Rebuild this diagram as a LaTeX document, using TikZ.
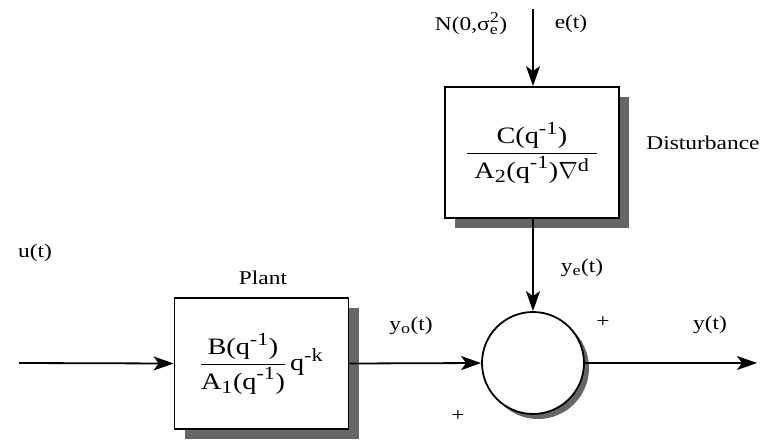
\documentclass[tikz,border=0pt]{standalone}
\usepackage{fix-cm}
\usepackage{amsmath}
\usepackage{fontspec}
\setmainfont[FakeStretch=1.2]{Liberation Serif}
\usetikzlibrary{arrows.meta,shadows}
\DeclareMathSizes{23.5}{23.5}{18.5}{14}
\DeclareMathSizes{19.5}{19.5}{15}{12}
\newcommand\tx[1]{\text{#1}}
\begin{document}
\begin{tikzpicture}[x=1pt,y=-1pt,
  every node/.style={font=\fontsize{19.5}{23}\selectfont},
  blk/.style={draw, line width=1.8pt, fill=white, inner sep=0pt,
    minimum width=174pt, minimum height=131pt,
    font=\fontsize{23.5}{28}\selectfont,
    drop shadow={shadow xshift=10pt, shadow yshift=-10pt, fill=black!60, opacity=1}},
  sumnode/.style={draw, circle, line width=1.8pt, fill=white, minimum size=102pt, inner sep=0pt,
    drop shadow={shadow xshift=5pt, shadow yshift=-5pt, fill=black!60, opacity=1}},
  conn/.style={line width=1.8pt, -{Stealth[length=20pt, width=14pt, inset=5pt]}},
  lbl/.style={inner sep=0pt}
]
\useasboundingbox (0,0) rectangle (764,440);

\node[blk] (dist) at (532,152.5)
  {$\dfrac{\tx{C(q}^{\tx{-1}}\tx{)}}{\mkern6mu\tx{A}_{\tx{2}}\tx{(q}^{\tx{-1}}\tx{)}\nabla^{\tx{d}}\mkern6mu}$};
\node[blk] (plant) at (261.5,363.5)
  {$\dfrac{\tx{B(q}^{\tx{-1}}\tx{)}}{\tx{A}_{\tx{1}}\tx{(q}^{\tx{-1}}\tx{)}}\,\tx{q}^{\tx{-k}}$};
\node[sumnode] (sum) at (533,363) {};

\coordinate (noise) at (533,9);
\coordinate (uin) at (19,363);
\coordinate (yout) at (757,363);

\draw[conn] (noise) -- (sum.north |- dist.north);
\draw[conn] (sum.north |- dist.south) -- (sum.north);
\draw[conn] (uin) -- (plant.west);
\draw[conn] (plant.east) -- (sum.west);
\draw[conn] (sum.east) -- (yout);

\node[lbl] (nlab) at (471,24) {N(0,$\tx{σ}_{\tx{e}}^{\tx{2}}$)};
\node[lbl] (elab) at (571,24) {e(t)};
\node[lbl] (dlab) at (703,143) {Disturbance};
\node[lbl] (yelab) at (582,268) {y$_{\tx{e}}$(t)};
\node[lbl] (plus1) at (603,322) {+};
\node[lbl] (ylab) at (710,325) {y(t)};
\node[lbl] (yolab) at (411,326) {y$_{\tx{o}}$(t)};
\node[lbl] (plus2) at (458,416) {+};
\node[lbl] (plab) at (263,278) {Plant};
\node[lbl] (ulab) at (35,253) {u(t)};
\end{tikzpicture}
\end{document}
